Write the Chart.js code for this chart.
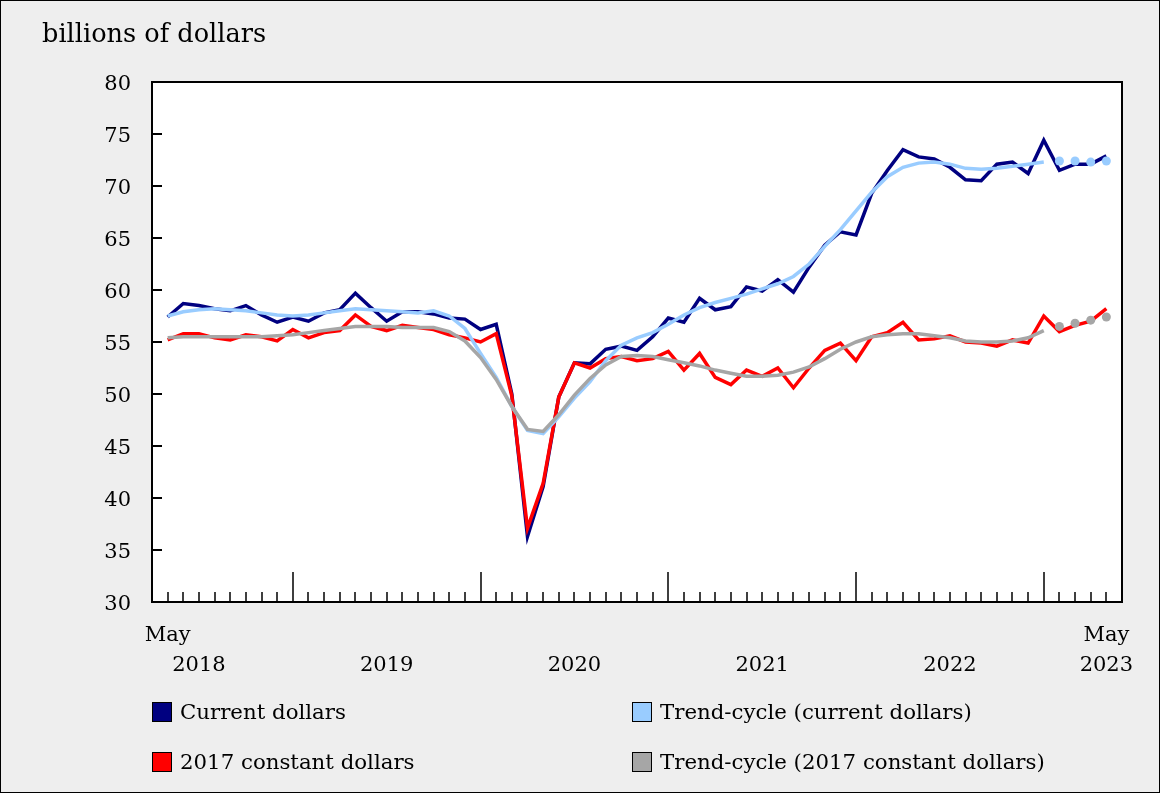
<!DOCTYPE html>
<html>
<head>
<meta charset="utf-8">
<script src="https://cdn.jsdelivr.net/npm/chart.js@4.4.1/dist/chart.umd.min.js"></script>
<style>
  html, body { margin: 0; padding: 0; background: #eeeeee; }
  #wrap { position: relative; width: 1160px; height: 793px; font-family: 'DejaVu Serif', serif; color: #000; }
  #wrap canvas { position: absolute; left: 0; top: 0; }
  .txt { position: absolute; font-size: 21.3px; line-height: 24px; white-space: nowrap; }
  .title { font-size: 25.6px; line-height: 30px; }
  .box { position: absolute; width: 18px; height: 18px; border: 1px solid #000; }
</style>
</head>
<body>
<div id="wrap">
  <canvas id="chart" width="1160" height="793"></canvas>
  <div class="txt title" style="left:42px; top:18px;">billions of dollars</div>
  <div class="box" style="left:152px; top:702px; background:#000080;"></div>
  <div class="txt" style="left:180px; top:700px;">Current dollars</div>
  <div class="box" style="left:632px; top:702px; background:#99ccff;"></div>
  <div class="txt" style="left:660px; top:700px;">Trend-cycle (current dollars)</div>
  <div class="box" style="left:152px; top:752px; background:#ff0000;"></div>
  <div class="txt" style="left:180px; top:750px;">2017 constant dollars</div>
  <div class="box" style="left:632px; top:752px; background:#a6a6a6;"></div>
  <div class="txt" style="left:660px; top:750px;">Trend-cycle (2017 constant dollars)</div>
</div>
<script>
/* global Chart */

// mois, mai 2018 a mai 2023
const months = [
  '2018-05', '2018-06', '2018-07', '2018-08', '2018-09', '2018-10', '2018-11', '2018-12',
  '2019-01', '2019-02', '2019-03', '2019-04', '2019-05', '2019-06', '2019-07', '2019-08', '2019-09', '2019-10', '2019-11', '2019-12',
  '2020-01', '2020-02', '2020-03', '2020-04', '2020-05', '2020-06', '2020-07', '2020-08', '2020-09', '2020-10', '2020-11', '2020-12',
  '2021-01', '2021-02', '2021-03', '2021-04', '2021-05', '2021-06', '2021-07', '2021-08', '2021-09', '2021-10', '2021-11', '2021-12',
  '2022-01', '2022-02', '2022-03', '2022-04', '2022-05', '2022-06', '2022-07', '2022-08', '2022-09', '2022-10', '2022-11', '2022-12',
  '2023-01', '2023-02', '2023-03', '2023-04', '2023-05',
];

const currentDollars = [
  57.4, 58.7, 58.5, 58.2, 58.0, 58.5, 57.6, 56.9,
  57.4, 57.0, 57.8, 58.1, 59.7, 58.3, 57.0, 57.9, 57.9, 57.7, 57.3, 57.2,
  56.2, 56.7, 50.0, 36.3, 41.1, 49.7, 53.0, 52.9, 54.3, 54.6, 54.2, 55.5,
  57.3, 56.9, 59.2, 58.1, 58.4, 60.3, 59.9, 61.0, 59.8, 62.2, 64.3, 65.6,
  65.3, 69.3, 71.5, 73.5, 72.8, 72.6, 71.8, 70.6, 70.5, 72.1, 72.3, 71.2,
  74.4, 71.5, 72.1, 72.1, 72.9,
];

const trendCurrent = [
  57.5, 57.9, 58.1, 58.2, 58.1, 58.0, 57.8, 57.6,
  57.5, 57.6, 57.8, 58.0, 58.2, 58.1, 58.0, 57.9, 57.8, 58.0, 57.5, 56.3,
  53.9, 51.6, 48.8, 46.5, 46.2, 47.8, 49.6, 51.2, 53.2, 54.7, 55.4, 55.9,
  56.7, 57.6, 58.3, 58.8, 59.2, 59.6, 60.1, 60.6, 61.3, 62.5, 64.2, 65.8,
  67.6, 69.4, 70.9, 71.8, 72.2, 72.3, 72.1, 71.7, 71.6, 71.7, 71.9, 72.1,
  72.3,
];
const trendCurrentProj = [72.4, 72.4, 72.3, 72.4];

const constantDollars = [
  55.2, 55.8, 55.8, 55.4, 55.2, 55.7, 55.5, 55.1,
  56.2, 55.4, 55.9, 56.1, 57.6, 56.5, 56.1, 56.6, 56.4, 56.2, 55.7, 55.4,
  55.0, 55.8, 49.8, 37.1, 41.4, 49.7, 53.0, 52.5, 53.4, 53.6, 53.2, 53.4,
  54.1, 52.3, 53.9, 51.6, 50.9, 52.3, 51.7, 52.5, 50.6, 52.5, 54.2, 54.9,
  53.2, 55.5, 55.9, 56.9, 55.2, 55.3, 55.6, 55.0, 54.9, 54.6, 55.2, 54.9,
  57.5, 56.0, 56.6, 57.0, 58.2,
];

const trendConstant = [
  55.4, 55.5, 55.5, 55.5, 55.5, 55.5, 55.5, 55.6,
  55.7, 55.9, 56.1, 56.3, 56.5, 56.5, 56.5, 56.4, 56.4, 56.4, 56.0, 55.1,
  53.5, 51.4, 48.8, 46.6, 46.4, 48.0, 49.9, 51.5, 52.8, 53.6, 53.7, 53.6,
  53.3, 53.0, 52.7, 52.3, 52.0, 51.7, 51.7, 51.8, 52.1, 52.6, 53.4, 54.3,
  55.0, 55.5, 55.7, 55.8, 55.8, 55.6, 55.4, 55.1, 55.0, 55.0, 55.1, 55.4,
  56.1,
];
const trendConstantProj = [56.5, 56.8, 57.1, 57.4];

// etiquettes de l'axe x : [mois, lignes]
const xTickLabels = [
  ['2018-05', ['May', '']],
  ['2018-07', ['', '2018']],
  ['2019-07', ['', '2019']],
  ['2020-07', ['', '2020']],
  ['2021-07', ['', '2021']],
  ['2022-07', ['', '2022']],
  ['2023-05', ['May', '2023']],
];
const yTicks = [30, 35, 40, 45, 50, 55, 60, 65, 70, 75, 80];

const FONT = { family: "'DejaVu Serif', serif", size: 21, lineHeight: 1.45 };

const toPoints = (vals, start = 0) => vals.map((v, i) => ({ x: start + i, y: v }));
const projStart = trendCurrent.length;

// fond gris, zone blanche, cadre, graduations vers l'interieur
const framePlugin = {
  id: 'frame',
  beforeDraw(chart) {
    const { ctx, chartArea: a, width, height } = chart;
    ctx.save();
    ctx.fillStyle = '#eeeeee';
    ctx.fillRect(0, 0, width, height);
    ctx.fillStyle = '#ffffff';
    ctx.fillRect(a.left, a.top, a.right - a.left, a.bottom - a.top);
    ctx.restore();
  },
  afterDraw(chart) {
    const { ctx, chartArea: a, width, height } = chart;
    const { x, y } = chart.scales;
    ctx.save();
    ctx.strokeStyle = '#000000';
    ctx.lineWidth = 1.5;
    ctx.beginPath();
    months.forEach((m, i) => {
      const px = Math.round(x.getPixelForValue(i));
      const len = m.endsWith('-01') ? 30 : 10;
      ctx.moveTo(px, a.bottom);
      ctx.lineTo(px, a.bottom - len);
    });
    ctx.stroke();
    ctx.lineWidth = 2;
    ctx.beginPath();
    yTicks.forEach(v => {
      const py = Math.round(y.getPixelForValue(v));
      ctx.moveTo(a.left, py);
      ctx.lineTo(a.left + 10, py);
    });
    ctx.stroke();
    ctx.strokeRect(a.left, a.top, a.right - a.left, a.bottom - a.top);
    ctx.lineWidth = 1;
    ctx.strokeRect(0.5, 0.5, width - 1, height - 1);
    ctx.restore();
  },
};

new Chart(document.getElementById('chart'), {
  type: 'line',
  data: {
    datasets: [
      { data: toPoints(currentDollars), borderColor: '#000080', order: 5 },
      { data: toPoints(constantDollars), borderColor: '#ff0000', order: 4 },
      { data: toPoints(trendCurrent), borderColor: '#99ccff', order: 3 },
      { data: toPoints(trendConstant), borderColor: '#a6a6a6', order: 2 },
      { data: toPoints(trendCurrentProj, projStart), showLine: false, pointRadius: 4.5,
        pointBackgroundColor: '#99ccff', pointBorderWidth: 0, order: 1 },
      { data: toPoints(trendConstantProj, projStart), showLine: false, pointRadius: 4.5,
        pointBackgroundColor: '#a6a6a6', pointBorderWidth: 0, order: 1 },
    ],
  },
  options: {
    responsive: false,
    animation: false,
    devicePixelRatio: 1,
    layout: { padding: { top: 82, right: 38, left: 0, bottom: 0 } },
    elements: {
      line: { borderWidth: 3.5, tension: 0, fill: false },
      point: { radius: 0 },
    },
    plugins: { legend: { display: false }, tooltip: { enabled: false } },
    scales: {
      x: {
        type: 'linear',
        min: -1,
        max: months.length,
        border: { display: false },
        grid: { display: false, drawTicks: false },
        afterFit: s => { s.height = 191; },
        afterBuildTicks: s => {
          s.ticks = xTickLabels.map(([m]) => ({ value: months.indexOf(m) }));
        },
        ticks: {
          autoSkip: false,
          maxRotation: 0,
          padding: 18,
          color: '#000000',
          font: FONT,
          callback: v => {
            const t = xTickLabels.find(([m]) => months.indexOf(m) === v);
            return t ? t[1] : '';
          },
        },
      },
      y: {
        min: 30,
        max: 80,
        border: { display: false },
        grid: { display: false, drawTicks: false },
        afterFit: s => { s.width = 152; },
        afterBuildTicks: s => { s.ticks = yTicks.map(v => ({ value: v })); },
        ticks: { padding: 21, labelOffset: 3, color: '#000000', font: { ...FONT, lineHeight: 1.2 } },
      },
    },
  },
  plugins: [framePlugin],
});
</script>
</body>
</html>
